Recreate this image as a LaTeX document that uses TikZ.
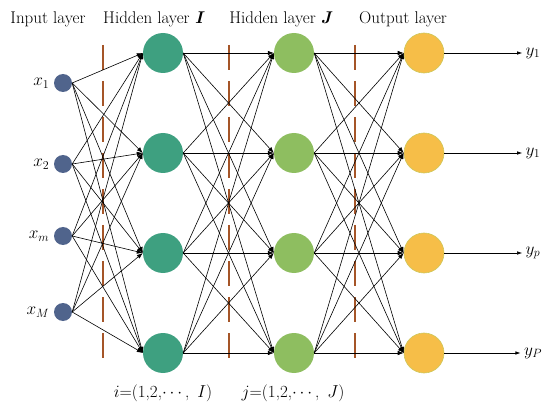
\documentclass[tikz,border=0pt]{standalone}
\usepackage{amsmath}
\usetikzlibrary{arrows,arrows.meta,positioning}
\definecolor{inblue}{RGB}{80,100,140}
\definecolor{hidI}{RGB}{62,160,128}
\definecolor{hidJ}{RGB}{142,190,96}
\definecolor{outY}{RGB}{246,190,72}
\definecolor{outrim}{RGB}{205,200,90}
\definecolor{sepline}{RGB}{165,85,40}

\begin{document}
\begin{tikzpicture}[x=1pt,y=-1pt,
  inneuron/.style={circle,fill=inblue,minimum size=18pt,inner sep=0pt},
  neuron/.style={circle,minimum size=40pt,inner sep=0pt},
  link/.style={-{Latex[length=6pt,width=4.5pt]},line width=0.6pt},
  sepdash/.style={sepline,line width=1.1pt,dash pattern=on 25pt off 11pt},
  lab/.style={font=\fontsize{17}{20}\selectfont}]
\useasboundingbox (0,0) rectangle (550,412);

% layer titles
\node[lab,anchor=base] (tin) at (48,24) {Input layer};
\node[lab,anchor=base] (thi) at (154,24) {Hidden layer \textbf{\textit{I}}};
\node[lab,anchor=base] (thj) at (281,24) {Hidden layer \textbf{\textit{J}}};
\node[lab,anchor=base] (tout) at (403,24) {Output layer};

% separators
\foreach \sx in {103,229,355}
  \draw[sepdash] (\sx,45) -- (\sx,366);

% input nodes
\node[inneuron] (x1) at (63,83) {};
\node[inneuron] (x2) at (63,164) {};
\node[inneuron] (x3) at (63,236) {};
\node[inneuron] (x4) at (63,312) {};
\node[lab,left=1pt of x1] (lx1) {$x_1$};
\node[lab,left=1pt of x2] (lx2) {$x_2$};
\node[lab,left=1pt of x3] (lx3) {$x_m$};
\node[lab,left=1pt of x4] (lx4) {$x_M$};

% hidden and output nodes
\foreach \ny [count=\i] in {53,153,253,353} {
  \node[neuron,fill=hidI] (h\i) at (163,\ny) {};
  \node[neuron,fill=hidJ] (g\i) at (294,\ny) {};
  \node[neuron,fill=outY,draw=outrim,line width=0.6pt] (o\i) at (424,\ny) {};
}
\node[lab] (ly1) at (533,53) {$y_1$};
\node[lab] (ly2) at (533,153) {$y_1$};
\node[lab] (ly3) at (533,253) {$y_p$};
\node[lab] (ly4) at (533,353) {$y_P$};

% connections
\foreach \i in {1,...,4}
  \foreach \j in {1,...,4} {
    \draw[link] (x\i.east) -- (h\j.west);
    \draw[link] (h\i.east) -- (g\j.west);
    \draw[link] (g\i.east) -- (o\j.west);
  }
\foreach \i in {1,...,4}
  \draw[-{Latex[length=5pt,width=3.5pt]},line width=0.6pt] (o\i.east) -- (ly\i.west);

% index ranges
\node[lab,anchor=base] (ri) at (163,397) {$i$=(1,2,$\cdots$,\,\ $I$)};
\node[lab,anchor=base] (rj) at (293,397) {$j$=(1,2,$\cdots$,\,\ $J$)};
\end{tikzpicture}
\end{document}
